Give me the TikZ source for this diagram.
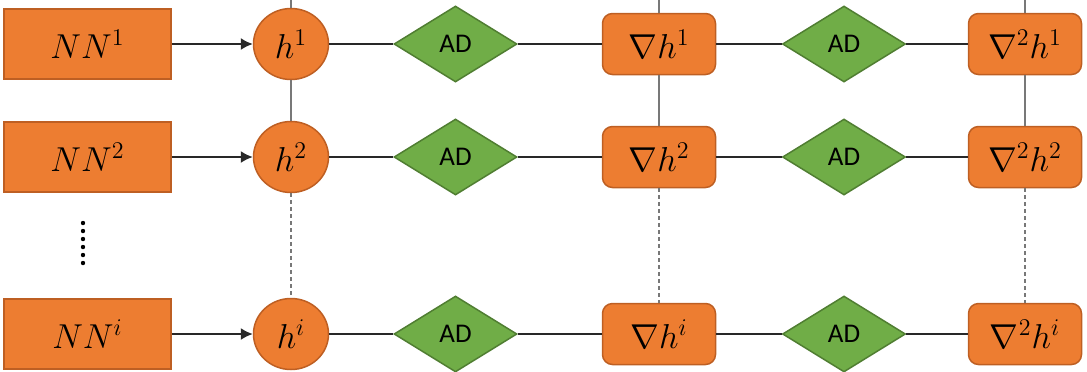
\documentclass[tikz,border=0pt]{standalone}
\usepackage{amsmath,amssymb}
\usepackage{fontspec}
\setsansfont{Carlito}
\usepackage{xcolor}
\usepackage{tikz}
\usetikzlibrary{positioning,arrows.meta,shapes.geometric}
\definecolor{cOrange}{RGB}{237,125,49}
\definecolor{cOrangeD}{RGB}{190,95,35}
\definecolor{cGreen}{RGB}{112,173,71}
\definecolor{cGreenD}{RGB}{80,126,50}
\definecolor{cLine}{RGB}{40,40,40}
\definecolor{cVert}{RGB}{120,120,120}

\begin{document}
\begin{tikzpicture}[x=0.5pt,y=-0.5pt,font=\fontsize{17}{20}\selectfont,
   nnbox/.style={draw=cOrangeD,fill=cOrange,line width=0.75pt,minimum width=83.5pt,minimum height=35pt,inner sep=0pt},
   hcirc/.style={draw=cOrangeD,fill=cOrange,line width=0.75pt,ellipse,minimum width=37.5pt,minimum height=35.5pt,inner sep=0pt},
   adbox/.style={draw=cGreenD,fill=cGreen,line width=0.75pt,diamond,minimum width=61.5pt,minimum height=38pt,inner sep=0pt,font=\sffamily\fontsize{13.5}{15}\selectfont},
   gradbox/.style={draw=cOrangeD,fill=cOrange,line width=0.75pt,rounded corners=5pt,minimum width=56.5pt,minimum height=30.5pt,inner sep=0pt},
   arr/.style={draw=cLine,line width=0.75pt,-{Latex[length=6pt,width=6pt]}},
   link/.style={draw=cLine,line width=0.75pt},
   vlink/.style={draw=cVert,line width=0.75pt},
   dlink/.style={draw=cVert,line width=0.75pt,dash pattern=on 2pt off 1.5pt}]
  \clip (0,0) rectangle (1087,371);
  % one row per network
  \foreach \r/\y/\s in {a/44/1, b/157/2, c/334/i} {
    \node[nnbox] (nn\r) at (87.5,\y) {$NN^{\s}$};
    \node[hcirc] (h\r) at (291,\y) {$h^{\s}$};
    \node[adbox] (ad\r) at (455.5,\y) {AD};
    \node[gradbox] (g\r) at (659,\y) {$\nabla h^{\s}$};
    \node[adbox] (add\r) at (844,\y) {AD};
    \node[gradbox] (gg\r) at (1025,\y) {$\nabla^2 h^{\s}$};
    \draw[arr] (nn\r) -- (h\r);
    \draw[link] (h\r) -- (ad\r) -- (g\r) -- (add\r) -- (gg\r);
  }
  % columns
  \coordinate (toph) at (291,0);
  \coordinate (topg) at (659,0);
  \coordinate (topgg) at (1025,0);
  \draw[vlink] (toph) -- (ha) -- (hb);
  \draw[vlink] (topg) -- (ga) -- (gb);
  \draw[vlink] (topgg) -- (gga) -- (ggb);
  \draw[dlink] (hb) -- (hc);
  \draw[dlink] (gb) -- (gc);
  \draw[dlink] (ggb) -- (ggc);
  % more networks
  \coordinate (dtop) at (83,223);
  \coordinate (dbot) at (83,263);
  \draw[line width=2.2pt,line cap=round,dash pattern=on 0pt off 4pt] (dtop) -- (dbot);
\end{tikzpicture}
\end{document}
